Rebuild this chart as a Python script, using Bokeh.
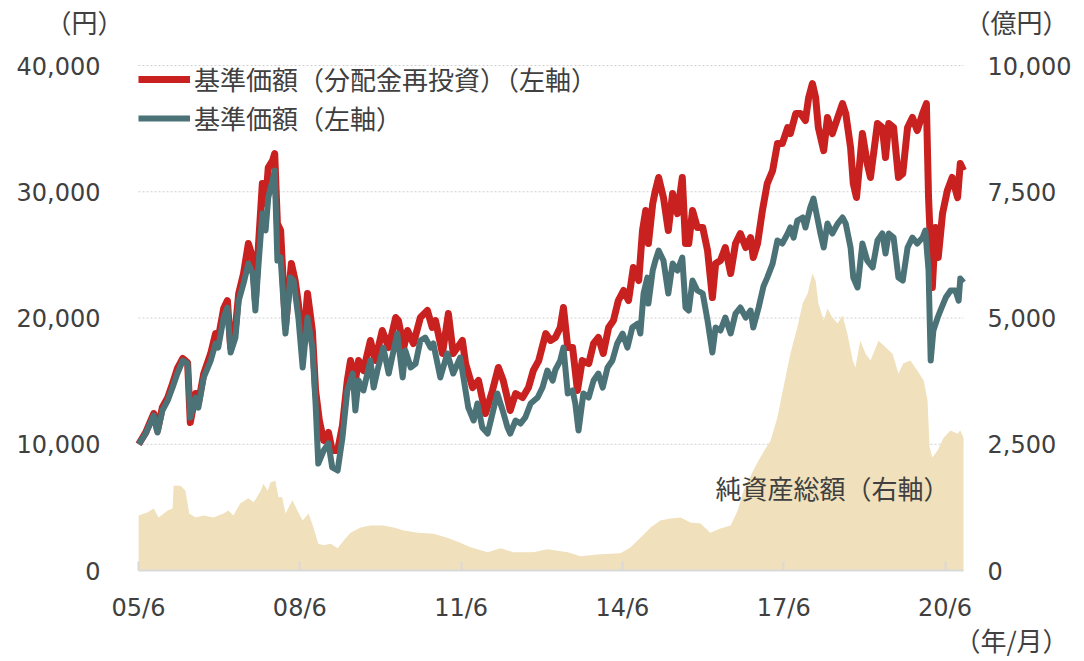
from bokeh.plotting import figure
from bokeh.models import (ColumnDataSource, Range1d, LinearAxis, FixedTicker,
                          NumeralTickFormatter, Label, Legend, LegendItem)
from bokeh.embed import file_html
from bokeh.resources import INLINE

# ---- data (decimal year, value) ----
nav_t = [2005.42, 2005.55, 2005.70, 2005.77, 2005.86, 2005.96, 2006.05, 2006.14, 2006.24, 2006.33,
         2006.38, 2006.48, 2006.53, 2006.63, 2006.76, 2006.85, 2006.90, 2007.00, 2007.07, 2007.13,
         2007.22, 2007.28, 2007.37, 2007.46, 2007.54, 2007.59, 2007.65, 2007.72, 2007.78, 2007.83,
         2007.91, 2007.95, 2008.00, 2008.06, 2008.15, 2008.24, 2008.30, 2008.39, 2008.47, 2008.56,
         2008.65, 2008.71, 2008.76, 2008.86, 2008.95, 2009.02, 2009.12, 2009.21, 2009.30, 2009.40,
         2009.45, 2009.51, 2009.60, 2009.73, 2009.79, 2009.86, 2009.97, 2010.07, 2010.16, 2010.23,
         2010.33, 2010.38, 2010.48, 2010.57, 2010.66, 2010.75, 2010.85, 2010.90, 2011.03, 2011.16,
         2011.27, 2011.40, 2011.46, 2011.55, 2011.65, 2011.72, 2011.81, 2011.91, 2012.00, 2012.09,
         2012.19, 2012.28, 2012.33, 2012.43, 2012.52, 2012.61, 2012.71, 2012.84, 2012.93, 2013.02,
         2013.12, 2013.17, 2013.26, 2013.32, 2013.40, 2013.49, 2013.54, 2013.60, 2013.69, 2013.79,
         2013.88, 2013.97, 2014.05, 2014.14, 2014.23, 2014.32, 2014.42, 2014.51, 2014.60, 2014.70,
         2014.75, 2014.81, 2014.88, 2014.90, 2014.98, 2015.03, 2015.09, 2015.18, 2015.27, 2015.35,
         2015.44, 2015.53, 2015.59, 2015.65, 2015.72, 2015.81, 2015.91, 2016.00, 2016.09, 2016.15,
         2016.24, 2016.33, 2016.43, 2016.52, 2016.61, 2016.71, 2016.80, 2016.85, 2016.95, 2017.04,
         2017.11, 2017.21, 2017.30, 2017.39, 2017.49, 2017.54, 2017.60, 2017.67, 2017.77, 2017.82,
         2017.91, 2017.97, 2018.04, 2018.10, 2018.16, 2018.23, 2018.32, 2018.42, 2018.51, 2018.57,
         2018.66, 2018.71, 2018.79, 2018.88, 2018.97, 2019.07, 2019.16, 2019.25, 2019.31, 2019.37,
         2019.46, 2019.55, 2019.63, 2019.72, 2019.81, 2019.90, 2020.00, 2020.05, 2020.11, 2020.15,
         2020.20, 2020.28, 2020.33, 2020.43, 2020.52, 2020.61, 2020.67, 2020.70, 2020.76]
nav_v = [10000, 10850, 12280, 10930, 12670, 13460, 14490, 15600, 16630, 16390,
         12120, 13700, 12900, 15290, 16630, 17980, 17660, 20040, 20830, 17270,
         18450, 21380, 22730, 24310, 23520, 20590, 24310, 28270, 26930, 29540,
         30890, 31680, 24550, 24790, 18770, 23200, 22970, 20040, 16080, 20040,
         17660, 13230, 8470, 9500, 10060, 8160, 7920, 10530, 14260, 15600,
         12670, 15050, 14260, 16630, 14490, 15840, 17660, 15600, 17420, 18770,
         15290, 17420, 16080, 16390, 18220, 18450, 17660, 17980, 15290, 17190,
         15600, 16870, 15290, 12910, 11880, 13230, 11330, 10850, 12430, 14020,
         12670, 11330, 10850, 11880, 11640, 12120, 13230, 13700, 14490, 15840,
         15050, 15900, 16630, 17660, 14020, 14260, 13230, 11090, 14020, 13700,
         15050, 15600, 14490, 16080, 16630, 17980, 18770, 17660, 19250, 19560,
         18770, 21940, 23200, 21140, 23760, 24550, 25340, 24550, 21940, 24310,
         23760, 24790, 20830, 20590, 22970, 22180, 21940, 19800, 17270, 19250,
         19010, 20040, 18770, 20350, 20830, 20040, 20590, 19250, 20830, 22500,
         23200, 24310, 26140, 25900, 26690, 27170, 26370, 27720, 27960, 27170,
         28750, 29460, 27960, 26690, 25580, 27480, 26690, 27480, 27960, 27480,
         25580, 23200, 22420, 25900, 24550, 24000, 26140, 26690, 25110, 26690,
         26370, 23200, 22970, 25580, 26370, 25900, 26370, 26930, 23760, 16630,
         19010, 20040, 20590, 21620, 22180, 22180, 21380, 23120, 22810]

reinv_t = [2005.42, 2005.55, 2005.70, 2005.77, 2005.86, 2005.96, 2006.05, 2006.14, 2006.24, 2006.33,
           2006.38, 2006.48, 2006.53, 2006.63, 2006.76, 2006.85, 2006.90, 2007.00, 2007.07, 2007.13,
           2007.22, 2007.28, 2007.37, 2007.46, 2007.54, 2007.59, 2007.65, 2007.72, 2007.78, 2007.83,
           2007.91, 2007.95, 2008.00, 2008.06, 2008.15, 2008.26, 2008.33, 2008.39, 2008.47, 2008.56,
           2008.65, 2008.71, 2008.78, 2008.86, 2008.95, 2009.02, 2009.12, 2009.21, 2009.30, 2009.36,
           2009.45, 2009.51, 2009.60, 2009.73, 2009.82, 2009.95, 2010.07, 2010.20, 2010.25, 2010.35,
           2010.42, 2010.53, 2010.66, 2010.79, 2010.88, 2010.94, 2011.07, 2011.18, 2011.27, 2011.44,
           2011.50, 2011.63, 2011.74, 2011.87, 2012.00, 2012.11, 2012.20, 2012.33, 2012.43, 2012.56,
           2012.67, 2012.76, 2012.86, 2012.99, 2013.08, 2013.17, 2013.26, 2013.32, 2013.40, 2013.49,
           2013.58, 2013.67, 2013.79, 2013.88, 2013.97, 2014.06, 2014.16, 2014.25, 2014.34, 2014.44,
           2014.53, 2014.62, 2014.72, 2014.79, 2014.85, 2014.90, 2014.98, 2015.03, 2015.09, 2015.18,
           2015.27, 2015.35, 2015.44, 2015.53, 2015.59, 2015.65, 2015.72, 2015.81, 2015.91, 2016.00,
           2016.09, 2016.15, 2016.24, 2016.33, 2016.43, 2016.52, 2016.61, 2016.71, 2016.80, 2016.85,
           2016.93, 2017.02, 2017.11, 2017.21, 2017.30, 2017.39, 2017.49, 2017.54, 2017.64, 2017.73,
           2017.82, 2017.88, 2017.95, 2018.01, 2018.06, 2018.16, 2018.23, 2018.32, 2018.42, 2018.51,
           2018.57, 2018.66, 2018.71, 2018.77, 2018.88, 2018.97, 2019.03, 2019.16, 2019.25, 2019.31,
           2019.37, 2019.46, 2019.55, 2019.63, 2019.72, 2019.81, 2019.90, 2020.00, 2020.07, 2020.11,
           2020.18, 2020.24, 2020.29, 2020.37, 2020.46, 2020.55, 2020.65, 2020.70, 2020.76]
reinv_v = [10000, 10930, 12430, 11090, 12910, 13700, 14810, 16000, 16790, 16470,
           11720, 14020, 13230, 15600, 17190, 18770, 18370, 20750, 21380, 17660,
           19250, 21940, 23520, 25900, 24790, 21380, 25900, 30650, 29060, 31920,
           32470, 33020, 27480, 26930, 19250, 24310, 22970, 21140, 17420, 21940,
           19010, 14260, 11880, 10300, 10930, 9500, 9500, 11500, 15050, 16630,
           15050, 16630, 15840, 18220, 16630, 19010, 17660, 20040, 19800, 17660,
           19010, 17980, 20040, 20590, 19250, 19800, 17190, 20350, 17190, 18220,
           16390, 14490, 15050, 12430, 14260, 16080, 15050, 12670, 14020, 13700,
           14490, 15840, 16630, 18770, 18220, 18450, 19250, 20830, 17660, 17660,
           14260, 16630, 16390, 17980, 18450, 17190, 19250, 19800, 21380, 22180,
           21380, 24000, 22970, 26930, 28510, 25900, 29060, 30100, 31130, 29540,
           26930, 29860, 28270, 31130, 25900, 25900, 28510, 27170, 27170, 25340,
           21620, 24310, 24550, 25580, 23520, 25900, 26690, 25580, 26370, 24790,
           25900, 28510, 30650, 31680, 33820, 33820, 35090, 34610, 36190, 36190,
           35640, 37460, 38570, 37460, 35090, 33260, 35880, 34610, 35880, 36980,
           36190, 33500, 30650, 29540, 34610, 32230, 31130, 35400, 35090, 32710,
           35400, 35090, 31130, 31440, 35090, 35880, 34850, 36190, 36980, 29540,
           22420, 27170, 24790, 28270, 30100, 31130, 29540, 32230, 31680]

assets_t = [2005.42, 2005.58, 2005.70, 2005.79, 2005.96, 2006.05, 2006.07, 2006.20, 2006.29, 2006.36,
            2006.48, 2006.63, 2006.81, 2007.00, 2007.09, 2007.18, 2007.31, 2007.46, 2007.56, 2007.69,
            2007.74, 2007.82, 2007.87, 2007.96, 2008.02, 2008.09, 2008.15, 2008.28, 2008.37, 2008.47,
            2008.58, 2008.67, 2008.76, 2008.86, 2008.99, 2009.12, 2009.23, 2009.36, 2009.55, 2009.73,
            2009.97, 2010.16, 2010.35, 2010.61, 2010.90, 2011.16, 2011.40, 2011.59, 2011.91, 2012.15,
            2012.39, 2012.76, 2013.02, 2013.40, 2013.64, 2014.01, 2014.38, 2014.57, 2014.75, 2014.94,
            2015.12, 2015.31, 2015.50, 2015.68, 2015.87, 2016.05, 2016.24, 2016.43, 2016.56, 2016.67,
            2016.85, 2016.98, 2017.17, 2017.30, 2017.41, 2017.54, 2017.67, 2017.77, 2017.86, 2017.95,
            2018.01, 2018.06, 2018.16, 2018.23, 2018.32, 2018.42, 2018.51, 2018.60, 2018.70, 2018.75,
            2018.84, 2018.94, 2019.03, 2019.18, 2019.31, 2019.44, 2019.55, 2019.64, 2019.77, 2019.90,
            2020.02, 2020.09, 2020.13, 2020.18, 2020.28, 2020.39, 2020.52, 2020.65, 2020.70, 2020.76]
assets_v = [1090, 1150, 1230, 1050, 1190, 1230, 1680, 1680, 1580, 1130,
            1050, 1090, 1050, 1130, 1190, 1090, 1330, 1430, 1350, 1580,
            1720, 1580, 1740, 1780, 1450, 1450, 1130, 1390, 1190, 990,
            1130, 850, 530, 500, 530, 440, 590, 750, 850, 890,
            890, 850, 790, 750, 730, 650, 550, 460, 360, 440,
            360, 360, 420, 360, 280, 320, 340, 460, 650, 850,
            990, 1030, 1050, 950, 930, 750, 830, 890, 1190, 1580,
            1980, 2240, 2570, 3030, 3620, 4290, 4810, 5290, 5480, 5880,
            5740, 5290, 4950, 5190, 5010, 4890, 5050, 4690, 4160, 4020,
            4550, 4290, 4160, 4550, 4420, 4290, 3900, 4100, 4160, 3960,
            3760, 3370, 2440, 2240, 2380, 2630, 2770, 2710, 2770, 2630]

x_ticks = [2005.4167, 2008.4167, 2011.4167, 2014.4167, 2017.4167, 2020.4167]
x_tick_labels = ["05/6", "08/6", "11/6", "14/6", "17/6", "20/6"]
x_end = 2020.76
left_ticks = [0, 10000, 20000, 30000, 40000]
right_ticks = [0, 2500, 5000, 7500, 10000]

RED = "#C8211F"
TEAL = "#4B7276"
TAN = "#F0E0BB"
TXT = "#404040"
NUM_FONT = "DejaVu Sans"
JP_FONT = "Noto Sans CJK JP"

# ---- layout: the plotting frame fills the whole canvas; the data region is
# placed at px 138..963 (x) and 65 (=40000) .. 570 (=0) (y), axes are fixed there.
W, H = 1084, 661
L_PX, R_PX, TOP_PX, BOT_PX = 138, 963, 65, 570
xs = (x_end - x_ticks[0]) / (R_PX - L_PX)          # years per px
ys = 40000 / (BOT_PX - TOP_PX)                      # yen per px
x_range = Range1d(x_ticks[0] - L_PX * xs, x_end + (W - R_PX) * xs)
y_range = Range1d(-(H - BOT_PX) * ys, BOT_PX * ys)

p = figure(width=W, height=H, output_backend="svg", toolbar_location=None,
           x_range=x_range, y_range=y_range, min_border=0,
           min_border_left=0, min_border_right=0, min_border_top=0, min_border_bottom=0)
p.outline_line_color = None
p.background_fill_color = "white"
p.border_fill_color = "white"
p.extra_y_ranges = {"assets": Range1d(y_range.start / 4, y_range.end / 4)}
p.xgrid.visible = False
p.ygrid.visible = False

# dotted horizontal grid lines at the left-axis ticks
grid_vals = left_ticks[1:]
gsrc = ColumnDataSource(dict(x0=[x_ticks[0]] * len(grid_vals), x1=[x_end] * len(grid_vals),
                             y=grid_vals))
p.segment(x0="x0", x1="x1", y0="y", y1="y", source=gsrc, line_color="#D0D0D0",
          line_width=1, line_dash="2 2")

asrc = ColumnDataSource(dict(t=assets_t, v=assets_v))
p.varea(x="t", y1=0, y2="v", source=asrc, y_range_name="assets", fill_color=TAN, fill_alpha=1)

rsrc = ColumnDataSource(dict(t=reinv_t, v=reinv_v))
nsrc = ColumnDataSource(dict(t=nav_t, v=nav_v))
r_red = p.line(x="t", y="v", source=rsrc, line_color=RED, line_width=7, line_join="round")
r_teal = p.line(x="t", y="v", source=nsrc, line_color=TEAL, line_width=6, line_join="round")

# x axis, pinned at y = 0
xa = p.xaxis[0]
xa.fixed_location = 0
xa.bounds = (x_ticks[0], x_end)
xa.ticker = FixedTicker(ticks=x_ticks)
xa.major_label_overrides = {t: l for t, l in zip(x_ticks, x_tick_labels)}
xa.axis_line_color = "#D9D9D9"
xa.axis_line_width = 2
xa.major_tick_line_color = "#D9D9D9"
xa.major_tick_line_width = 2
xa.major_tick_in = 9
xa.major_tick_out = 0
xa.minor_tick_line_color = None
xa.major_label_text_font = NUM_FONT
xa.major_label_text_font_size = "24px"
xa.major_label_text_color = TXT
xa.major_label_standoff = 23

# left axis pinned at the start of the data, right axis at the end
ya = p.yaxis[0]
ya.fixed_location = x_ticks[0]
ya.ticker = FixedTicker(ticks=left_ticks)
ya.formatter = NumeralTickFormatter(format="0,0")
ra = LinearAxis(y_range_name="assets", fixed_location=x_end,
                ticker=FixedTicker(ticks=right_ticks),
                formatter=NumeralTickFormatter(format="0,0"))
p.add_layout(ra, "right")
for ax, so in ((ya, 38), (ra, 24)):
    ax.axis_line_color = None
    ax.major_tick_line_color = None
    ax.minor_tick_line_color = None
    ax.major_tick_in = 0
    ax.major_tick_out = 0
    ax.major_label_text_font = NUM_FONT
    ax.major_label_text_font_size = "24px"
    ax.major_label_text_color = TXT
    ax.major_label_standoff = so

legend = Legend(items=[LegendItem(label="基準価額（分配金再投資）（左軸）", renderers=[r_red]),
                       LegendItem(label="基準価額（左軸）", renderers=[r_teal])],
                location=(L_PX, H - 136), margin=0, padding=0, spacing=2,
                glyph_width=52, glyph_height=20, label_standoff=4,
                border_line_color=None, background_fill_alpha=0,
                label_text_font=JP_FONT, label_text_font_size="26px",
                label_text_color=TXT)
p.add_layout(legend)

def caption(px, py, text, align="center"):
    # px, py: position in canvas pixels from the top-left corner
    p.add_layout(Label(x=px, y=H - py, x_units="screen", y_units="screen", text=text,
                       text_font=JP_FONT, text_font_size="26px", text_color=TXT,
                       text_align=align, text_baseline="middle"))

caption(84, 21, "（円）")
caption(1016, 21, "（億円）")
caption(1011, 639, "（年/月）")
caption(715, 487, "純資産総額（右軸）", align="left")

open("out.html", "w").write(file_html(p, INLINE))
